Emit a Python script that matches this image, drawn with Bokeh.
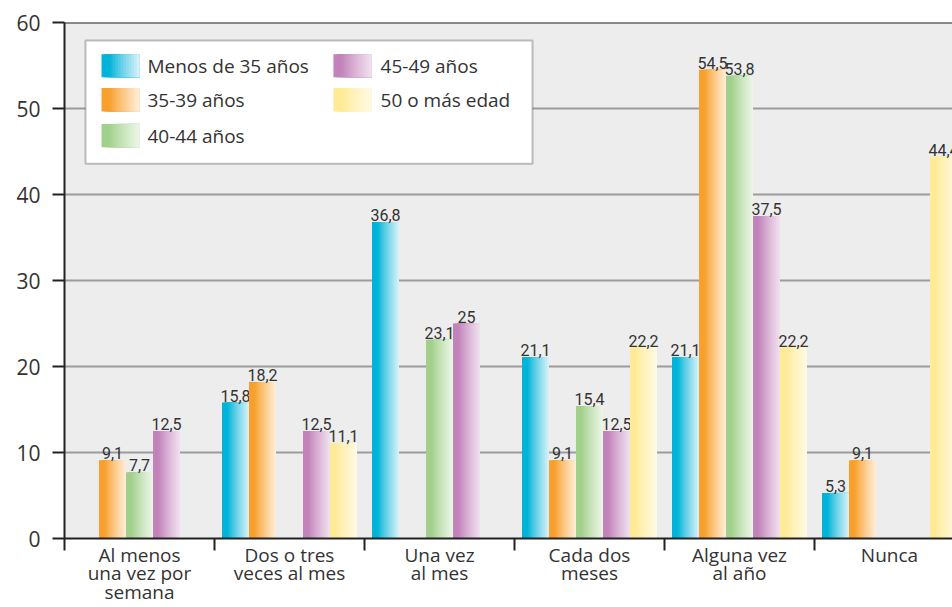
from bokeh.plotting import figure
from bokeh.models import FixedTicker, Span, ColumnDataSource, BoxAnnotation, Range1d
from bokeh.core.properties import value
from bokeh.embed import file_html
from bokeh.resources import INLINE

# ---------------- data ----------------
categories = ["Al menos\nuna vez por\nsemana", "Dos o tres\nveces al mes", "Una vez\nal mes",
              "Cada dos\nmeses", "Alguna vez\nal año", "Nunca"]
series_names = ["Menos de 35 años", "35-39 años", "40-44 años", "45-49 años", "50 o más edad"]
menos_35 = [0, 15.8, 36.8, 21.1, 21.1, 5.3]
edad_35_39 = [9.1, 18.2, 0, 9.1, 54.5, 9.1]
edad_40_44 = [7.7, 0, 23.1, 15.4, 53.8, 0]
edad_45_49 = [12.5, 12.5, 25, 12.5, 37.5, 0]
edad_50_mas = [0, 11.1, 0, 22.2, 22.2, 44.4]
y_ticks = [0, 10, 20, 30, 40, 50, 60]

series_values = [menos_35, edad_35_39, edad_40_44, edad_45_49, edad_50_mas]

# ---------------- style ----------------
color_pairs = [("#00B3D9", "#E2F5FB"), ("#F8A02C", "#FFF1E0"), ("#A2D08C", "#F0F8EC"),
               ("#C282BA", "#F2E6F1"), ("#FFEA96", "#FFFBE8")]
FONT = value("Open Sans")
NUM_FONT = value("Roboto")
TEXT_COLOR = "#333333"
N_STRIPS = 14
BAR_W = 0.18


def hex2rgb(h):
    h = h.lstrip("#")
    return tuple(int(h[i:i + 2], 16) for i in (0, 2, 4))


def mix(c0, c1, t):
    a, b = hex2rgb(c0), hex2rgb(c1)
    return "#%02x%02x%02x" % tuple(int(round(a[i] + (b[i] - a[i]) * t)) for i in range(3))


def profile(f):
    t = max(0.0, (f - 0.18) / 0.82)
    return min(1.0, t) ** 0.85


p = figure(width=952, height=607, x_range=Range1d(0, 5.92), y_range=Range1d(0, 60),
           output_backend="svg", toolbar_location=None,
           min_border_left=64, min_border_right=0, min_border_top=22, min_border_bottom=66)
p.background_fill_color = "#EDEDED"
p.border_fill_color = "white"
p.outline_line_color = None

# grid
p.xgrid.grid_line_color = None
p.ygrid.ticker = FixedTicker(ticks=y_ticks[1:-1])
p.ygrid.grid_line_color = "#9C9C9C"
p.ygrid.grid_line_width = 2

# bars with horizontal gradient (strips)
n_series = len(series_names)
for s, vals in enumerate(series_values):
    c0, c1 = color_pairs[s]
    offset = (s - (n_series - 1) / 2) * BAR_W
    idx = [k for k, v in enumerate(vals) if v > 0]
    for i in range(N_STRIPS):
        f = i / N_STRIPS
        src = ColumnDataSource(dict(
            left=[k + 0.5 + offset - BAR_W / 2 + f * BAR_W for k in idx],
            right=[k + 0.5 + offset + BAR_W / 2 for k in idx],
            top=[vals[k] for k in idx],
            bottom=[0 for k in idx],
        ))
        p.quad(left="left", right="right", top="top", bottom="bottom", source=src,
               fill_color=mix(c0, c1, profile(f)), line_color=None)
    lab_src = ColumnDataSource(dict(
        x=[k + 0.5 + offset for k in idx],
        y=[vals[k] for k in idx],
        text=[("%g" % vals[k]).replace(".", ",") for k in idx],
    ))
    p.text(x="x", y="y", text="text", source=lab_src, text_align="center",
           text_baseline="bottom", y_offset=-1, text_font=NUM_FONT,
           text_font_size="16px", text_color=TEXT_COLOR)

# top frame line
p.add_layout(Span(location=60, dimension="width", line_color="#222222", line_width=2))

# axes
p.yaxis.ticker = FixedTicker(ticks=y_ticks)
p.yaxis.major_label_text_font = "Open Sans"
p.yaxis.major_label_text_font_size = "21px"
p.yaxis.major_label_text_color = TEXT_COLOR
p.yaxis.major_tick_out = 12
p.yaxis.major_tick_in = 0
p.yaxis.minor_tick_line_color = None
p.yaxis.major_tick_line_width = 2
p.yaxis.major_tick_line_color = "#222222"
p.yaxis.axis_line_width = 2
p.yaxis.axis_line_color = "#222222"
p.yaxis.major_label_standoff = 12

centers = [k + 0.5 for k in range(len(categories))]
bounds = [k for k in range(len(categories) + 1)]
p.xaxis.ticker = FixedTicker(ticks=centers, minor_ticks=bounds)
p.xaxis.major_label_overrides = {c: lab for c, lab in zip(centers, categories)}
p.xaxis.major_tick_line_color = None
p.xaxis.major_tick_out = 0
p.xaxis.major_tick_in = 0
p.xaxis.minor_tick_out = 12
p.xaxis.minor_tick_in = 0
p.xaxis.minor_tick_line_width = 2
p.xaxis.minor_tick_line_color = "#222222"
p.xaxis.axis_line_width = 2
p.xaxis.axis_line_color = "#222222"
p.xaxis.major_label_text_font = "Open Sans"
p.xaxis.major_label_text_font_size = "19px"
p.xaxis.major_label_text_line_height = 0.72
p.xaxis.major_label_text_color = TEXT_COLOR
p.xaxis.major_label_standoff = -9

# manual legend (gradient swatches)
p.add_layout(BoxAnnotation(left=0.14, right=3.12, top=57.92, bottom=43.58,
                           fill_color="white", fill_alpha=1.0, line_color="#333333",
                           line_width=2, level="annotation"))
rows = [(56.3, 53.64), (52.37, 49.65), (48.21, 45.49)]
cols = [(0.2467, 0.5, 0.553), (1.793, 2.047, 2.107)]
for s, name in enumerate(series_names):
    col = 0 if s < 3 else 1
    row = s if s < 3 else s - 3
    x0, x1, xt = cols[col]
    ytop, ybot = rows[row]
    c0, c1 = color_pairs[s]
    for i in range(N_STRIPS):
        f = i / N_STRIPS
        p.quad(left=[x0 + f * (x1 - x0)], right=[x1], top=[ytop], bottom=[ybot],
               fill_color=mix(c0, c1, profile(f)), line_color=None, level="overlay")
    p.text(x=[xt], y=[(ytop + ybot) / 2], text=[name], text_font=FONT,
           text_font_size="19px", text_color=TEXT_COLOR, text_baseline="middle",
           text_align="left", level="overlay")

open("out.html", "w").write(file_html(p, INLINE))
